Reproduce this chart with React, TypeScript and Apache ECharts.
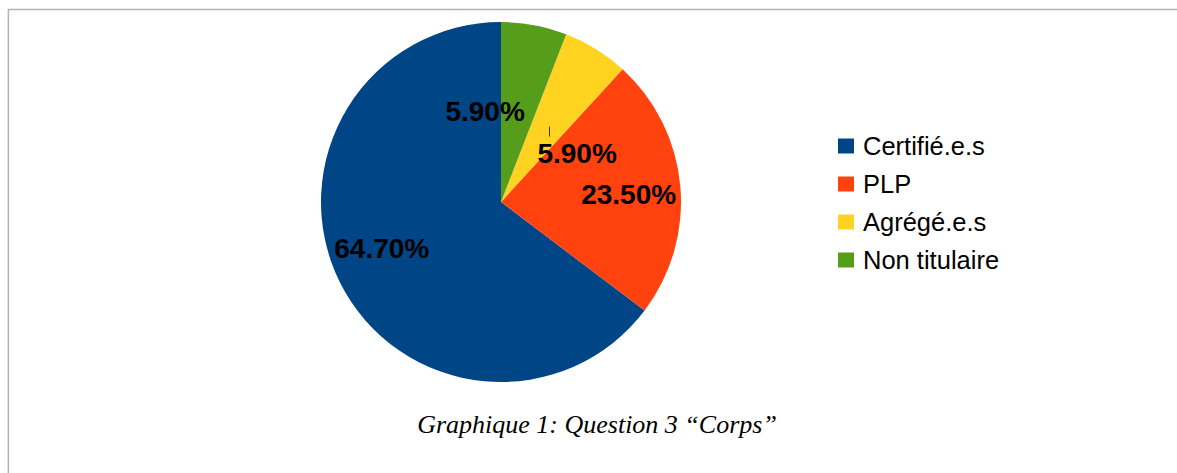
import React, { useEffect, useRef } from "react";
import * as echarts from "echarts";

const categories = ["Certifié.e.s", "PLP", "Agrégé.e.s", "Non titulaire"];
const values = [64.7, 23.5, 5.9, 5.9];
const colors = ["#004586", "#ff420e", "#ffd320", "#579d1c"];
const caption = "Graphique 1: Question 3 “Corps”";

// label nudges (style only) relative to the library's inside position
const labelShift = [
  [-36, 5],
  [35, 1],
  [27, 30],
  [-33, 1],
];

const CX = 501;
const CY = 202;
const R = 180;

export default function App() {
  const ref = useRef<HTMLDivElement>(null);

  useEffect(() => {
    if (!ref.current) return;
    const chart = echarts.init(ref.current, undefined, { renderer: "svg" });

    // anchor of the Agrégé.e.s slice (for its small leader tick)
    const total = values.reduce((a, b) => a + b, 0);
    let acc = 0;
    for (let i = 0; i < 2; i++) acc += values[i];
    const midFrac = (acc + values[2] / 2) / total;
    const midAng = ((90 + midFrac * 360) * Math.PI) / 180;
    const ax = CX + (R / 2) * Math.cos(midAng);
    const ay = CY - (R / 2) * Math.sin(midAng);

    chart.setOption({
      animation: false,
      backgroundColor: "#ffffff",
      color: colors,
      legend: {
        orient: "vertical",
        left: 838,
        top: 133,
        padding: 0,
        itemWidth: 16,
        itemHeight: 15,
        itemGap: 12,
        icon: "rect",
        textStyle: {
          fontFamily: "Liberation Sans",
          fontSize: 25.5,
          lineHeight: 25,
          color: "#000000",
          padding: [0, 0, 0, 4],
        },
        data: categories,
      },
      graphic: [
        {
          type: "line",
          shape: { x1: 8, y1: 9.6, x2: 1177, y2: 9.6 },
          style: { stroke: "#b3b3b3", lineWidth: 1.5 },
        },
        {
          type: "line",
          shape: { x1: 8.4, y1: 9, x2: 8.4, y2: 473 },
          style: { stroke: "#b3b3b3", lineWidth: 1.5 },
        },
        {
          type: "line",
          shape: { x1: Math.round(ax) + 0.5, y1: ay + 1, x2: Math.round(ax) + 0.5, y2: ay + 11 },
          style: { stroke: "#333333", lineWidth: 1 },
          z: 100,
        },
        {
          type: "text",
          x: 597,
          y: 424,
          style: {
            text: caption,
            fontFamily: "Liberation Serif",
            fontStyle: "italic",
            fontSize: 26,
            fill: "#000000",
            textAlign: "center",
            textVerticalAlign: "middle",
          },
        },
      ],
      series: [
        {
          type: "pie",
          center: [CX, CY],
          radius: [0, R],
          startAngle: 90,
          clockwise: false,
          avoidLabelOverlap: false,
          itemStyle: { borderWidth: 0 },
          emphasis: { disabled: true },
          label: {
            show: true,
            position: "inside",
            formatter: (p: any) => p.value.toFixed(2) + "%",
            fontFamily: "Liberation Sans",
            fontWeight: "bold",
            fontSize: 28,
            color: "#000000",
          },
          labelLine: { show: false },
          labelLayout: (params: any) => {
            const s = labelShift[params.dataIndex];
            return { dx: s[0], dy: s[1] };
          },
          data: categories.map((name, i) => ({ name, value: values[i] })),
        },
      ],
    });

    return () => chart.dispose();
  }, []);

  return (
    <div
      ref={ref}
      style={{ position: "fixed", left: 0, top: 0, width: 1177, height: 473 }}
    />
  );
}
